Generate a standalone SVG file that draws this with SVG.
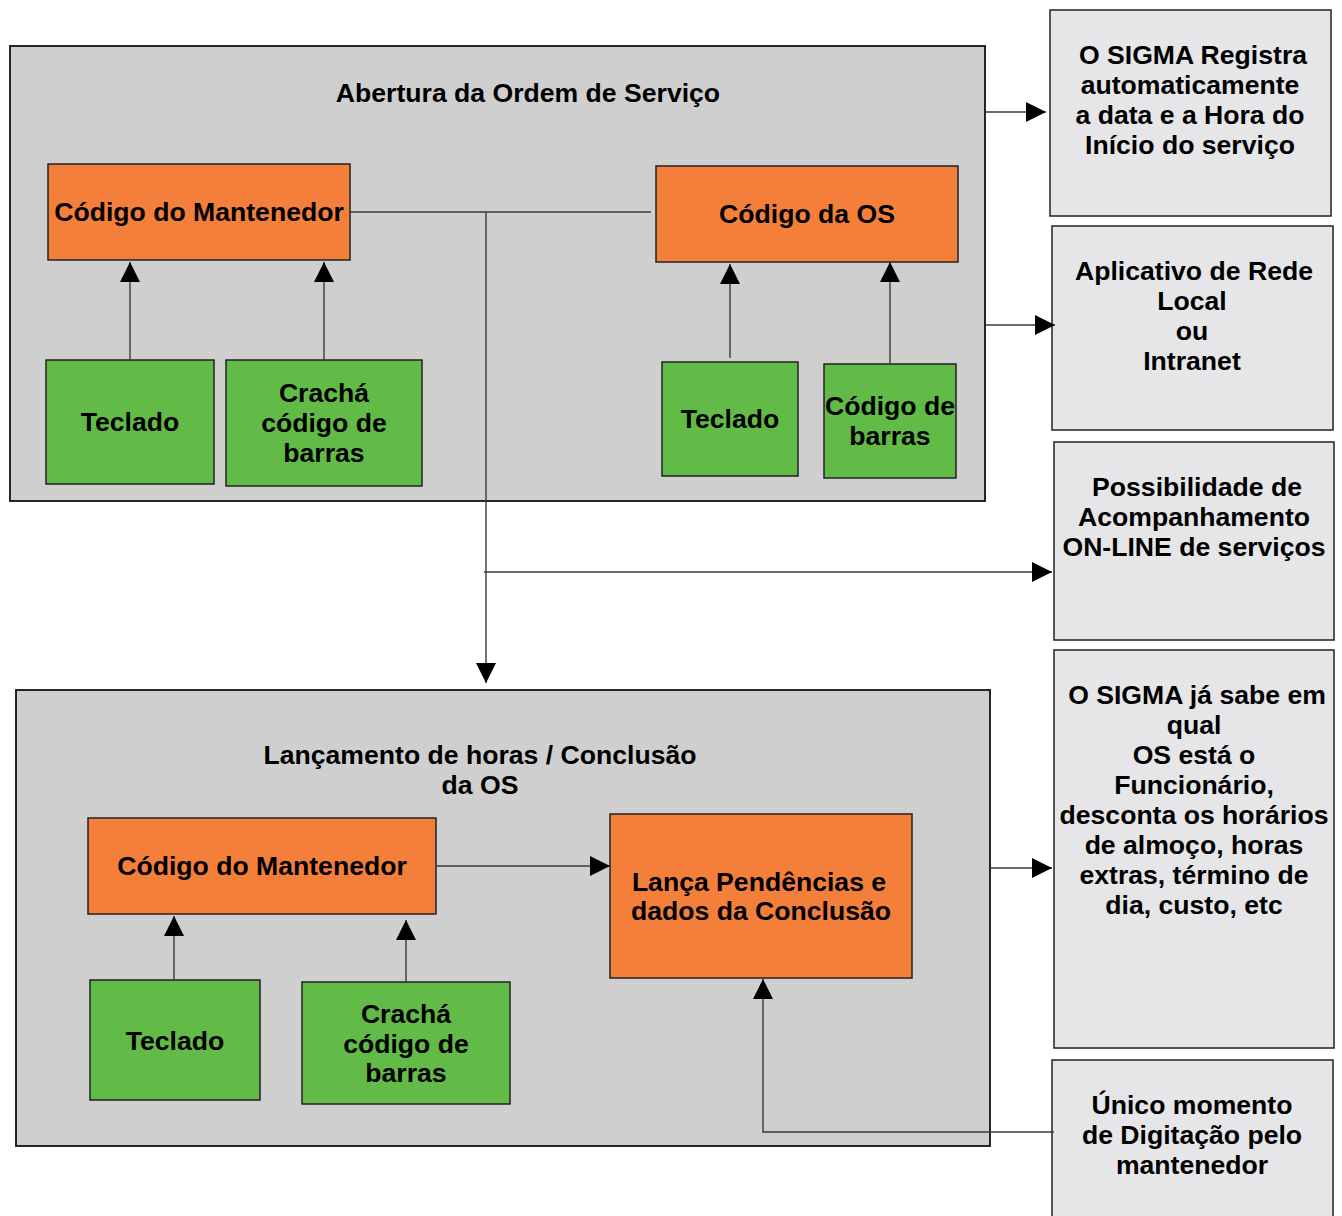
<svg xmlns="http://www.w3.org/2000/svg" width="1342" height="1216" viewBox="0 0 1342 1216">
  <defs>
    <marker id="arrow" viewBox="0 0 20 20" refX="20" refY="10" markerWidth="20" markerHeight="20" markerUnits="userSpaceOnUse" orient="auto">
      <path d="M0,0 L20,10 L0,20 z" fill="#000"/>
    </marker>
    <style>
      .panel { fill: #cfcfcf; stroke: #111; stroke-width: 1.8; }
      .orange { fill: #f37f3a; stroke: #222; stroke-width: 1.5; }
      .green { fill: #63bb47; stroke: #222; stroke-width: 1.5; }
      .note { fill: #e6e6e8; stroke: #222; stroke-width: 1.5; }
      text { font-family: "Liberation Sans", Arial, sans-serif; font-weight: bold; font-size: 26.6px; fill: #000; text-anchor: middle; }
      .wire { fill: none; stroke: #3a3a3a; stroke-width: 1.4; }
      .arrow { fill: none; stroke: #3a3a3a; stroke-width: 1.4; marker-end: url(#arrow); }
    </style>
  </defs>
  <rect width="1342" height="1216" fill="#fff"/>

  <!-- Panel: opening of the work order -->
  <g id="abertura">
    <rect class="panel" x="10" y="46" width="975" height="455"/>
    <text x="528" y="102">Abertura da Ordem de Serviço</text>
  </g>
  <g id="codigo-mantenedor-1">
    <rect class="orange" x="48" y="164" width="302" height="96"/>
    <text x="199" y="221">Código do Mantenedor</text>
  </g>
  <g id="codigo-os">
    <rect class="orange" x="656" y="166" width="302" height="96"/>
    <text x="807" y="223">Código da OS</text>
  </g>
  <g id="teclado-1">
    <rect class="green" x="46" y="360" width="168" height="124"/>
    <text x="130" y="431">Teclado</text>
  </g>
  <g id="cracha-1">
    <rect class="green" x="226" y="360" width="196" height="126"/>
    <text x="324" y="402">Crachá</text>
    <text x="324" y="432">código de</text>
    <text x="324" y="462">barras</text>
  </g>
  <g id="teclado-2">
    <rect class="green" x="662" y="362" width="136" height="114"/>
    <text x="730" y="428">Teclado</text>
  </g>
  <g id="codigo-barras">
    <rect class="green" x="824" y="364" width="132" height="114"/>
    <text x="890" y="415">Código de</text>
    <text x="890" y="445">barras</text>
  </g>

  <!-- Panel: hours entry / closing -->
  <g id="lancamento">
    <rect class="panel" x="16" y="690" width="974" height="456"/>
    <text x="480" y="764">Lançamento de horas / Conclusão</text>
    <text x="480" y="794">da OS</text>
  </g>
  <g id="codigo-mantenedor-2">
    <rect class="orange" x="88" y="818" width="348" height="96"/>
    <text x="262" y="875">Código do Mantenedor</text>
  </g>
  <g id="lanca-pendencias">
    <rect class="orange" x="610" y="814" width="302" height="164"/>
    <text x="759" y="891">Lança Pendências e</text>
    <text x="761" y="920">dados da Conclusão</text>
  </g>
  <g id="teclado-3">
    <rect class="green" x="90" y="980" width="170" height="120"/>
    <text x="175" y="1050">Teclado</text>
  </g>
  <g id="cracha-2">
    <rect class="green" x="302" y="982" width="208" height="122"/>
    <text x="406" y="1023">Crachá</text>
    <text x="406" y="1053">código de</text>
    <text x="406" y="1082">barras</text>
  </g>

  <!-- Side notes -->
  <g id="nota-registro">
    <rect class="note" x="1050" y="10" width="281" height="206"/>
    <text x="1193" y="64">O SIGMA Registra</text>
    <text x="1190" y="94">automaticamente</text>
    <text x="1190" y="124">a data e a Hora do</text>
    <text x="1190" y="154">Início do serviço</text>
  </g>
  <g id="nota-rede">
    <rect class="note" x="1052" y="226" width="281" height="204"/>
    <text x="1194" y="280">Aplicativo de Rede</text>
    <text x="1192" y="310">Local</text>
    <text x="1192" y="340">ou</text>
    <text x="1192" y="370">Intranet</text>
  </g>
  <g id="nota-online">
    <rect class="note" x="1054" y="442" width="280" height="198"/>
    <text x="1197" y="496">Possibilidade de</text>
    <text x="1194" y="526">Acompanhamento</text>
    <text x="1194" y="556">ON-LINE de serviços</text>
  </g>
  <g id="nota-sigma">
    <rect class="note" x="1054" y="650" width="280" height="398"/>
    <text x="1197" y="704">O SIGMA já sabe em</text>
    <text x="1194" y="734">qual</text>
    <text x="1194" y="764">OS está o</text>
    <text x="1194" y="794">Funcionário,</text>
    <text x="1194" y="824">desconta os horários</text>
    <text x="1194" y="854">de almoço, horas</text>
    <text x="1194" y="884">extras, término de</text>
    <text x="1194" y="914">dia, custo, etc</text>
  </g>
  <g id="nota-digitacao">
    <rect class="note" x="1052" y="1060" width="281" height="170"/>
    <text x="1192" y="1114">Único momento</text>
    <text x="1192" y="1144">de Digitação pelo</text>
    <text x="1192" y="1174">mantenedor</text>
  </g>

  <!-- Connectors -->
  <g id="connectors">
    <line class="arrow" x1="130" y1="360" x2="130" y2="262"/>
    <line class="arrow" x1="324" y1="360" x2="324" y2="262"/>
    <line class="arrow" x1="730" y1="358" x2="730" y2="264"/>
    <line class="arrow" x1="890" y1="364" x2="890" y2="262"/>
    <line class="wire" x1="350" y1="212" x2="651" y2="212"/>
    <line class="arrow" x1="486" y1="212" x2="486" y2="683"/>
    <line class="arrow" x1="484" y1="572" x2="1052" y2="572"/>
    <line class="arrow" x1="986" y1="112" x2="1046" y2="112"/>
    <line class="arrow" x1="986" y1="325" x2="1055" y2="325"/>
    <line class="arrow" x1="174" y1="980" x2="174" y2="916"/>
    <line class="arrow" x1="406" y1="982" x2="406" y2="920"/>
    <line class="arrow" x1="436" y1="866" x2="610" y2="866"/>
    <line class="arrow" x1="990" y1="868" x2="1052" y2="868"/>
    <polyline class="arrow" points="1054,1132 763,1132 763,979"/>
  </g>
</svg>
